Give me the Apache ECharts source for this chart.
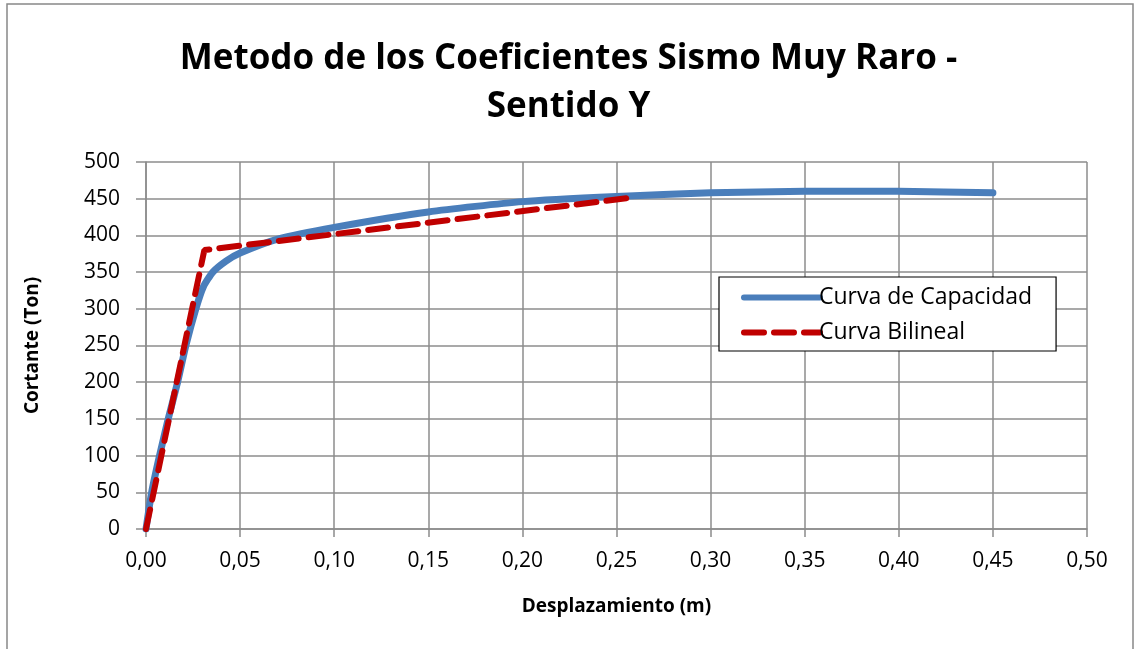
<!DOCTYPE html>
<html>
<head>
<meta charset="utf-8">
<script src="https://cdn.jsdelivr.net/npm/echarts@6/dist/echarts.min.js"></script>
<style>
  html, body { margin: 0; padding: 0; background: #fff; }
  #chart { width: 1137px; height: 649px; }
</style>
</head>
<body>
<div id="chart"></div>
<script>
// Curva de capacidad (desplazamiento m, cortante Ton)
const capDesp = [0, 0.003, 0.0072, 0.0118, 0.0168, 0.0212, 0.0265, 0.0305, 0.0355, 0.0425, 0.05, 0.07, 0.10, 0.15, 0.20, 0.25, 0.30, 0.35, 0.40, 0.45]
const capCort = [0, 50, 100, 150, 200, 250, 300, 330, 350, 365, 376, 395, 411, 432, 446, 453, 458, 460, 460, 458]
// Curva bilineal
const bilDesp = [0, 0.031, 0.26]
const bilCort = [0, 380, 452]

const seriesNames = ['Curva de Capacidad', 'Curva Bilineal']

const chart = echarts.init(document.getElementById('chart'))
const gridColor = '#8c8c8c'
const fmt = v => v.toFixed(2).replace('.', ',')

const option = {
  backgroundColor: '#fff',
  animation: false,
  title: {
    text: 'Metodo de los Coeficientes Sismo Muy Raro -\nSentido Y',
    left: 'center',
    top: 30,
    textStyle: {
      fontFamily: 'Open Sans',
      fontWeight: 'bold',
      fontSize: 35,
      lineHeight: 48,
      color: '#000'
    }
  },
  graphic: [{
    type: 'rect',
    shape: { x: 7, y: 4, width: 1126, height: 660 },
    style: { fill: 'none', stroke: '#888', lineWidth: 1.5 },
    silent: true
  }],
  legend: {
    data: seriesNames,
    orient: 'vertical',
    left: 719,
    top: 277,
    padding: [9, 24, 7, 22],
    itemGap: 12,
    itemWidth: 76,
    itemHeight: 8,
    borderColor: '#000',
    borderWidth: 1.2,
    backgroundColor: '#fff',
    itemStyle: { opacity: 0 },
    lineStyle: { width: 6, cap: 'round' },
    textStyle: { fontFamily: 'Open Sans', fontSize: 23, color: '#000', padding: [0, 0, 0, -6] }
  },
  grid: {
    left: 146,
    right: 50,
    top: 162,
    bottom: 120
  },
  xAxis: {
    type: 'value',
    min: 0,
    max: 0.5,
    interval: 0.05,
    name: 'Desplazamiento (m)',
    nameLocation: 'middle',
    nameGap: 68,
    nameTextStyle: { fontFamily: 'Open Sans', fontWeight: 'bold', fontSize: 19, color: '#000' },
    axisLine: { show: true, lineStyle: { color: gridColor, width: 1.5 } },
    axisTick: { show: true, inside: false, length: 8, lineStyle: { color: gridColor, width: 1.5 } },
    axisLabel: { fontFamily: 'Open Sans', fontSize: 21, color: '#000', margin: 22, formatter: fmt },
    splitLine: { show: true, lineStyle: { color: gridColor, width: 1.5 } }
  },
  yAxis: {
    type: 'value',
    min: 0,
    max: 500,
    interval: 50,
    name: 'Cortante (Ton)',
    nameLocation: 'middle',
    nameGap: 104,
    nameTextStyle: { fontFamily: 'Open Sans', fontWeight: 'bold', fontSize: 19, color: '#000' },
    axisLine: { show: true, lineStyle: { color: gridColor, width: 1.5 } },
    axisTick: { show: true, inside: false, length: 10, lineStyle: { color: gridColor, width: 1.5 } },
    axisLabel: { fontFamily: 'Open Sans', fontSize: 21, color: '#000', margin: 26 },
    splitLine: { show: true, lineStyle: { color: gridColor, width: 1.5 } }
  },
  series: [
    {
      name: seriesNames[0],
      type: 'line',
      data: capDesp.map((d, i) => [d, capCort[i]]),
      smooth: 0.2,
      showSymbol: false,
      symbol: 'none',
      lineStyle: { color: '#4a7ebb', width: 7, cap: 'round' },
      itemStyle: { color: '#4a7ebb' },
      z: 2
    },
    {
      name: seriesNames[1],
      type: 'line',
      data: bilDesp.map((d, i) => [d, bilCort[i]]),
      showSymbol: false,
      symbol: 'none',
      lineStyle: { color: '#c00000', width: 6, type: [20, 10], cap: 'round' },
      itemStyle: { color: '#c00000' },
      z: 3
    }
  ]
}
chart.setOption(option)
</script>
</body>
</html>
